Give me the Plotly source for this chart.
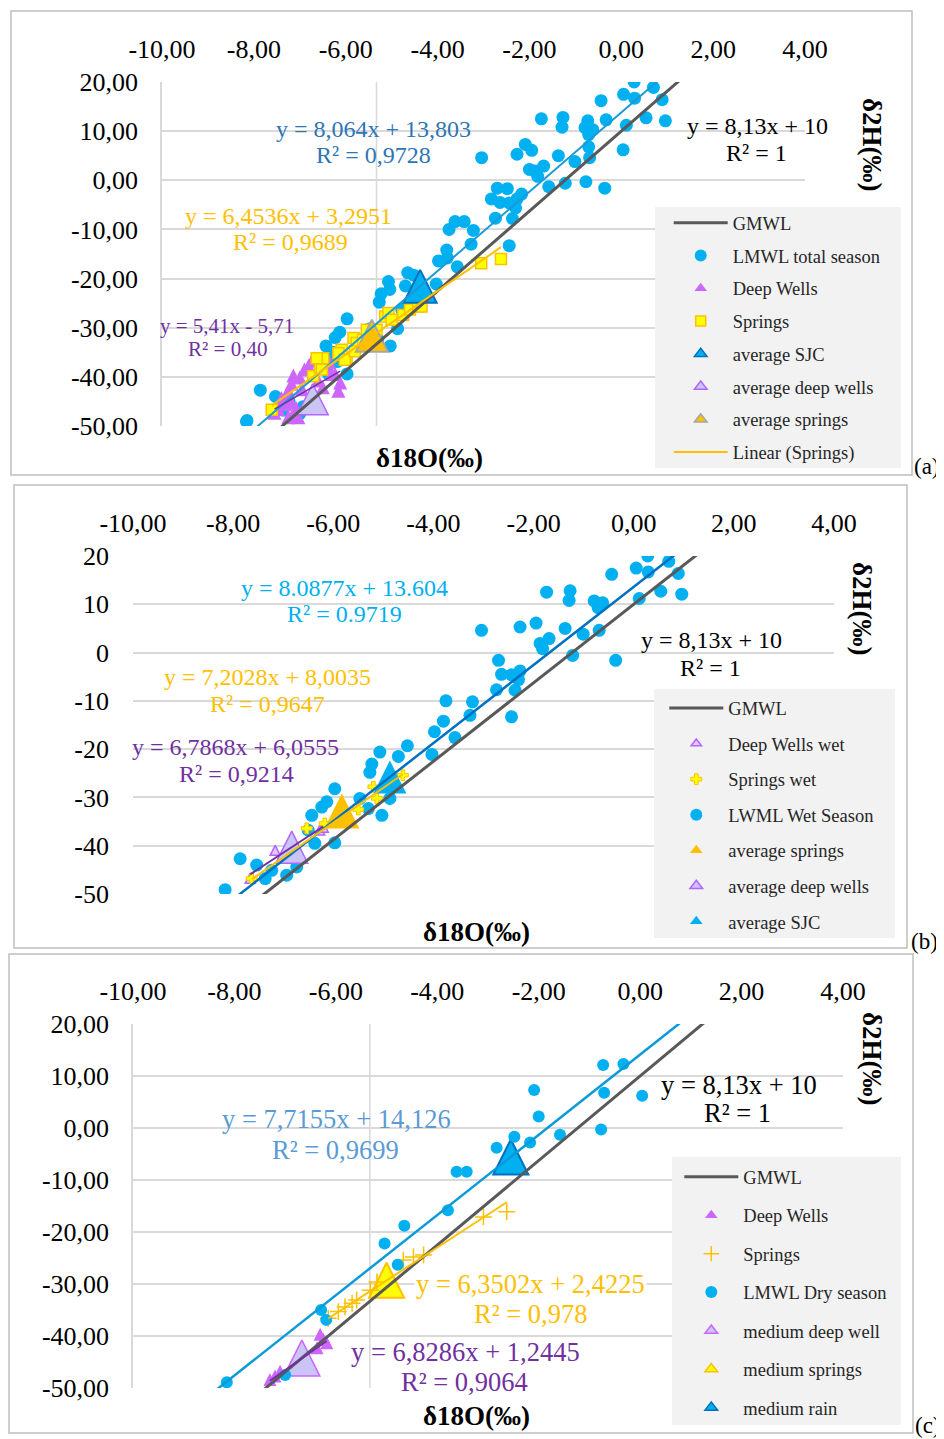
import plotly.graph_objects as go

# the page body adds an 8 px margin, so every reference pixel position is
# shifted by 8 px and the figure is sized to end at the window edge
OFF = 8
W, H = 944 - OFF, 1439 - OFF
SERIF = "Liberation Serif"

# ---------------- tick labels ----------------
x_tick_vals = [-10, -8, -6, -4, -2, 0, 2, 4]
x_tick_text = ["-10,00", "-8,00", "-6,00", "-4,00", "-2,00", "0,00", "2,00", "4,00"]
y_tick_vals = [20, 10, 0, -10, -20, -30, -40, -50]
y_tick_text_dec = ["20,00", "10,00", "0,00", "-10,00", "-20,00", "-30,00", "-40,00", "-50,00"]
y_tick_text_int = ["20", "10", "0", "-10", "-20", "-30", "-40", "-50"]

# ---------------- rain samples, wet season ----------------
wet_rain_x = [0.28, 0.70, 0.05, 0.29, 0.89, -0.44, -1.74, -1.27, -1.29, -0.79, -0.62, -0.71,
              0.11, 0.54, 0.96, -3.04, -2.27, -1.95, -1.37, -0.69, -1.01, -1.69, -1.87, -1.82,
              -1.22, -0.36, -2.70, -2.64, -2.44, -2.27, -2.30, -2.74, -2.37, -2.44, -3.75, -3.22,
              -3.27, -3.80, -3.98, -3.57, -4.52, -5.07, -4.70, -4.03, -5.23, -5.27, -4.87, -5.47,
              -5.30, -5.03, -5.97, -6.13, -6.23, -6.43, -6.50, -6.37, -5.97, -7.86, -7.53, -7.36,
              -6.93, -6.73, -8.16, -7.23]
wet_rain_y = [20.0, 18.9, 17.5, 16.7, 16.4, 16.2, 12.5, 12.8, 10.8, 10.7, 10.3, 9.3,
              11.2, 12.7, 12.1, 4.6, 5.3, 6.1, 5.0, 4.6, 3.8, 2.9, 1.9, 0.8,
              -0.6, -1.6, -1.6, -4.5, -4.6, -3.8, -5.6, -7.7, -7.8, -13.3, -10.0, -10.2,
              -13.0, -14.2, -16.4, -17.6, -19.3, -20.6, -21.5, -21.1, -23.1, -24.8, -30.2, -30.2,
              -32.3, -33.7, -28.2, -30.9, -32.0, -33.7, -36.8, -39.5, -39.4, -42.7, -44.0, -46.8,
              -46.1, -44.4, -49.1, -45.1]

# ---------------- rain samples, dry season ----------------
dry_rain_x = [-0.73, -0.33, -2.09, -0.71, 0.04, -2.00, -0.77, -1.58, -2.48, -2.17, -2.83,
              -3.62, -3.42, -3.79, -4.65, -5.04, -4.78, -6.29, -6.19, -7.00, -8.15]
dry_rain_y = [12.1, 12.3, 7.3, 6.8, 6.2, 2.2, -0.3, -1.3, -1.7, -2.8, -3.8,
              -8.4, -8.4, -15.8, -18.8, -22.2, -26.3, -35.0, -36.9, -47.5, -48.9]

# total season = both sampling campaigns
total_rain_x = wet_rain_x + dry_rain_x
total_rain_y = wet_rain_y + dry_rain_y

# ---------------- groundwater, panel (a) ----------------
deep_a_x = [-6.74, -6.81, -7.00, -7.14, -6.31, -6.23, -6.12, -6.60, -7.18, -7.25, -7.29,
            -7.18, -7.47, -7.32, -7.14, -7.03, -7.25, -6.16, -6.90, -6.45, -6.95, -7.40,
            -6.50, -7.08, -6.68, -6.36, -7.55]
deep_a_y = [-37.2, -38.2, -40.6, -40.2, -39.9, -39.9, -41.6, -41.2, -41.9, -43.3, -44.0,
            -45.7, -47.0, -46.0, -48.0, -48.7, -48.7, -43.3, -39.0, -38.6, -43.0, -44.8,
            -42.6, -46.8, -40.0, -37.5, -47.8]
springs_a_x = [-7.61, -6.71, -6.56, -6.52, -6.49, -6.12, -6.09, -5.98, -5.83, -5.76, -5.62,
               -5.54, -5.33, -5.14, -5.07, -5.00, -4.75, -4.60, -4.42, -4.35, -3.05, -2.62,
               -6.63, -6.16, -6.02, -5.80]
springs_a_y = [-46.7, -39.9, -38.2, -38.5, -36.2, -35.5, -34.5, -36.5, -32.1, -33.1, -32.4,
               -30.4, -30.4, -27.7, -27.0, -28.4, -27.4, -26.3, -25.7, -25.7, -16.9, -16.0,
               -36.2, -35.2, -36.5, -34.8]
avg_sjc_a = (-4.38, -22.7)
avg_deep_a = (-6.72, -45.6)
avg_springs_a = (-5.43, -32.7)

# ---------------- groundwater, panel (b) wet ----------------
deep_wet_x = [-7.66, -7.16, -6.95, -6.83, -6.27, -6.20]
deep_wet_y = [-47.1, -41.3, -41.0, -39.9, -37.1, -36.5]
springs_wet_x = [-7.63, -6.53, -6.17, -5.50, -5.20, -5.13, -4.61]
springs_wet_y = [-46.8, -36.4, -35.4, -32.5, -27.8, -30.2, -25.4]
avg_springs_b = (-5.83, -34.0)
avg_deep_b = (-6.83, -41.4)
avg_sjc_b = (-4.87, -26.9)

# ---------------- groundwater, panel (c) dry ----------------
deep_dry_x = [-6.31, -6.18, -6.37, -6.25, -7.10, -7.20, -7.30]
deep_dry_y = [-40.1, -41.7, -42.7, -41.0, -47.2, -48.1, -48.8]
springs_dry_x = [-6.15, -5.95, -5.82, -5.68, -5.59, -5.32, -5.19, -4.67, -4.47, -4.27, -3.09, -2.63]
springs_dry_y = [-36.6, -35.3, -34.4, -33.7, -33.1, -31.2, -29.6, -25.4, -24.8, -24.4, -17.1, -16.1]
med_deep_c = (-6.67, -45.4)
med_springs_c = (-5.00, -30.4)
med_rain_c = (-2.55, -6.7)

# ---------------- regression lines (slope, intercept) and x extents ----------------
gmwl_fit = (8.13, 10.0)
gmwl_ext = [-9.0, 2.0]
lmwl_total_fit = (8.064, 13.803)
springs_a_fit = (6.4536, 3.2951)
deep_a_fit = (5.41, -5.71)
lmwl_wet_fit = (8.0877, 13.604)
springs_wet_fit = (7.2028, 8.0035)
deep_wet_fit = (6.7868, 6.0555)
lmwl_dry_fit = (7.7155, 14.126)
lmwl_dry_ext = [-8.4, 0.8]
springs_dry_fit = (6.3502, 2.4225)
deep_dry_fit = (6.8286, 1.2445)


def ext(xs):
    return [min(xs), max(xs)]


def fit_y(fit, xs):
    return [fit[0] * v + fit[1] for v in xs]


# ---------------- colours ----------------
C_RAIN = "#00b0f0"
C_GMWL = "#595959"
C_PURPLE = "#7030a0"
C_ORANGE = "#ffc000"
C_VIOLET = "#cc66ff"
C_LAV = "#cbc5f7"
C_GRID = "#d9d9d9"

fig = go.Figure()


def tri(size, fill, lc, lw):
    # upright triangle as tall as wide, centred on the point
    return dict(symbol="arrow-down", angle=180, standoff=size * 2 / 3, size=size,
                color=fill, line=dict(color=lc, width=lw))


def pts(ax, xs, ys, marker):
    fig.add_trace(go.Scatter(x=xs, y=ys, mode="markers", marker=marker, showlegend=False,
                             xaxis="x" + ax, yaxis="y" + ax, hoverinfo="skip"))


def line(ax, xs, fit, color, width, name=None, leg=None, rank=None):
    fig.add_trace(go.Scatter(x=xs, y=fit_y(fit, xs), mode="lines",
                             line=dict(color=color, width=width),
                             showlegend=name is not None, name=name, legend=leg,
                             legendgroup=(leg or "") + (name or ""), legendrank=rank,
                             xaxis="x" + ax, yaxis="y" + ax, hoverinfo="skip"))


def proxy(ax, name, marker, leg, rank):
    fig.add_trace(go.Scatter(x=[None], y=[None], mode="markers", marker=marker, name=name,
                             legend=leg, legendgroup=leg + name, legendrank=rank,
                             xaxis="x" + ax, yaxis="y" + ax, hoverinfo="skip"))


# ===== panel (a) =====
A = ""
pts(A, total_rain_x, total_rain_y, dict(size=13, color=C_RAIN))
pts(A, deep_a_x, deep_a_y, tri(14, C_VIOLET, C_VIOLET, 0))
pts(A, springs_a_x, springs_a_y, dict(symbol="square", size=11, color="#ffff00",
                                      line=dict(color=C_ORANGE, width=1.5)))
pts(A, [avg_sjc_a[0]], [avg_sjc_a[1]], tri(33, C_RAIN, "#0070c0", 2))
pts(A, [avg_deep_a[0]], [avg_deep_a[1]], tri(31, C_LAV, "#b266ff", 1.5))
pts(A, [avg_springs_a[0]], [avg_springs_a[1]], tri(32, C_ORANGE, "#a6a6a6", 2))
line(A, gmwl_ext, gmwl_fit, C_GMWL, 3, "GMWL", "legend", 1)
line(A, ext(total_rain_x), lmwl_total_fit, "#1a9ad6", 2)
line(A, ext(deep_a_x), deep_a_fit, C_PURPLE, 1.5)
line(A, ext(springs_a_x), springs_a_fit, C_ORANGE, 2, "Linear (Springs)", "legend", 8)
proxy(A, "LMWL total season", dict(size=12, color=C_RAIN), "legend", 2)
proxy(A, "Deep Wells", dict(symbol="triangle-up", size=11, color=C_VIOLET), "legend", 3)
proxy(A, "Springs", dict(symbol="square", size=10, color="#ffff00",
                         line=dict(color=C_ORANGE, width=1.5)), "legend", 4)
proxy(A, "average SJC", dict(symbol="triangle-up", size=11, color=C_RAIN,
                             line=dict(color="#0070c0", width=1.5)), "legend", 5)
proxy(A, "average deep wells", dict(symbol="triangle-up", size=11, color=C_LAV,
                                    line=dict(color="#b266ff", width=1.5)), "legend", 6)
proxy(A, "average springs", dict(symbol="triangle-up", size=11, color=C_ORANGE,
                                 line=dict(color="#a6a6a6", width=1.5)), "legend", 7)

# ===== panel (b) =====
B = "2"
pts(B, wet_rain_x, wet_rain_y, dict(size=13, color=C_RAIN))
pts(B, deep_wet_x, deep_wet_y, tri(10, "#e3c8ff", "#b266ff", 1.5))
pts(B, springs_wet_x, springs_wet_y, dict(symbol="cross", size=9, color="#ffff00",
                                          line=dict(color=C_ORANGE, width=1)))
pts(B, [avg_springs_b[0]], [avg_springs_b[1]], tri(35, C_ORANGE, C_ORANGE, 0))
pts(B, [avg_deep_b[0]], [avg_deep_b[1]], tri(32, C_LAV, "#b266ff", 1.5))
pts(B, [avg_sjc_b[0]], [avg_sjc_b[1]], tri(33, C_RAIN, C_RAIN, 0))
line(B, gmwl_ext, gmwl_fit, C_GMWL, 3, "GMWL", "legend2", 1)
line(B, ext(wet_rain_x), lmwl_wet_fit, "#0070c0", 2.5)
line(B, ext(springs_wet_x), springs_wet_fit, C_ORANGE, 2)
line(B, ext(deep_wet_x), deep_wet_fit, C_PURPLE, 2)
proxy(B, "Deep Wells wet", dict(symbol="triangle-up", size=9, color="#e3c8ff",
                                line=dict(color="#b266ff", width=1.5)), "legend2", 2)
proxy(B, "Springs wet", dict(symbol="cross", size=9, color="#ffff00",
                             line=dict(color=C_ORANGE, width=1)), "legend2", 3)
proxy(B, "LWML Wet Season", dict(size=12, color=C_RAIN), "legend2", 4)
proxy(B, "average springs", dict(symbol="triangle-up", size=11, color=C_ORANGE), "legend2", 5)
proxy(B, "average deep wells", dict(symbol="triangle-up", size=11, color=C_LAV,
                                    line=dict(color="#b266ff", width=1.5)), "legend2", 6)
proxy(B, "average SJC", dict(symbol="triangle-up", size=11, color=C_RAIN), "legend2", 7)

# ===== panel (c) =====
Cc = "3"
pts(Cc, [med_deep_c[0]], [med_deep_c[1]], tri(36, C_LAV, C_VIOLET, 1.5))
pts(Cc, [med_springs_c[0]], [med_springs_c[1]], tri(35, "#ffff00", C_ORANGE, 2))
pts(Cc, [med_rain_c[0]], [med_rain_c[1]], tri(35, C_RAIN, "#0070c0", 2))
pts(Cc, deep_dry_x, deep_dry_y, tri(13, C_VIOLET, C_VIOLET, 0))
pts(Cc, springs_dry_x, springs_dry_y, dict(symbol="cross-thin", size=12,
                                           line=dict(color=C_ORANGE, width=1.5)))
pts(Cc, dry_rain_x, dry_rain_y, dict(size=12, color=C_RAIN))
line(Cc, gmwl_ext, gmwl_fit, C_GMWL, 3, "GMWL", "legend3", 1)
line(Cc, lmwl_dry_ext, lmwl_dry_fit, "#0a9ad8", 2.5)
line(Cc, ext(springs_dry_x), springs_dry_fit, C_ORANGE, 2)
line(Cc, ext(deep_dry_x), deep_dry_fit, C_PURPLE, 2)
proxy(Cc, "Deep Wells", dict(symbol="triangle-up", size=11, color=C_VIOLET), "legend3", 2)
proxy(Cc, "Springs", dict(symbol="cross-thin", size=11, line=dict(color=C_ORANGE, width=1.5)),
      "legend3", 3)
proxy(Cc, "LMWL Dry season", dict(size=12, color=C_RAIN), "legend3", 4)
proxy(Cc, "medium deep well", dict(symbol="triangle-up", size=11, color=C_LAV,
                                   line=dict(color=C_VIOLET, width=1.5)), "legend3", 5)
proxy(Cc, "medium springs", dict(symbol="triangle-up", size=11, color="#ffff00",
                                 line=dict(color=C_ORANGE, width=1.5)), "legend3", 6)
proxy(Cc, "medium rain", dict(symbol="triangle-up", size=11, color=C_RAIN,
                              line=dict(color="#0070c0", width=1.5)), "legend3", 7)


# ---------------- layout (positions given in screen pixels) ----------------
def PX(p):
    return (p - OFF) / W


def PY(p):
    return 1 - (p - OFF) / H


panels = [
    ("", (162, 805), (82, 426), y_tick_text_dec, True, 17),
    ("2", (133, 834), (556, 894), y_tick_text_int, False, 23),
    ("3", (133, 843), (1024, 1388), y_tick_text_dec, True, 17),
]
tickfont = dict(family=SERIF, size=26, color="#000000")
lay = {}
for n, xd, yd, ytxt, yline, ystand in panels:
    lay["xaxis" + n] = dict(domain=[PX(xd[0]), PX(xd[1])], range=[-10, 4], side="top",
                           anchor="y" + n, tickmode="array", tickvals=x_tick_vals,
                           ticktext=x_tick_text, showgrid=False, zeroline=False,
                           showline=False, ticks="", tickfont=tickfont, automargin=False,
                           ticklabelstandoff=18, fixedrange=True)
    lay["yaxis" + n] = dict(domain=[PY(yd[1]), PY(yd[0])], range=[-50, 20],
                           anchor="x" + n, tickmode="array", tickvals=y_tick_vals,
                           ticktext=ytxt, showgrid=True, gridcolor=C_GRID, gridwidth=1.5,
                           zeroline=False, showline=yline, linecolor=C_GRID, linewidth=1.5,
                           ticks="", tickfont=tickfont, ticklabelstandoff=ystand,
                           automargin=False, fixedrange=True)

shapes = []
# outer frames of the three charts
for x0, y0, x1, y1 in [(11, 11, 912, 475), (14, 485, 907, 948), (9, 954, 913, 1433)]:
    shapes.append(dict(type="rect", xref="paper", yref="paper", x0=PX(x0), x1=PX(x1),
                       y0=PY(y1), y1=PY(y0), line=dict(color="#bfbfbf", width=1.5),
                       fillcolor="rgba(0,0,0,0)", layer="below"))
# legend backgrounds
for x0, y0, x1, y1 in [(655, 207, 901, 468), (654, 689, 895, 938), (672, 1157, 901, 1425)]:
    shapes.append(dict(type="rect", xref="paper", yref="paper", x0=PX(x0), x1=PX(x1),
                       y0=PY(y1), y1=PY(y0), line=dict(width=0), fillcolor="#f2f2f2",
                       layer="above"))
# vertical axis-crossing lines in (a) and (c)
for n in ["", "3"]:
    shapes.append(dict(type="line", xref="x" + n, yref="y" + n, x0=-5.33, x1=-5.33,
                       y0=-50, y1=20, line=dict(color=C_GRID, width=1.5), layer="below"))


def txt(s, x, y, color="#000000", size=24, angle=0, bg=None):
    d = dict(text=s, x=PX(x), y=PY(y), xref="paper", yref="paper", xanchor="center",
             yanchor="middle", showarrow=False, textangle=angle,
             font=dict(family=SERIF, size=size, color=color))
    if bg:
        d["bgcolor"] = bg
    return d


ann = [
    # (a)
    txt("y = 8,064x + 13,803", 373, 129, "#2e75b6"),
    txt("R² = 0,9728", 373, 155, "#2e75b6"),
    txt("y = 6,4536x + 3,2951", 288, 216, C_ORANGE),
    txt("R² = 0,9689", 290, 242, C_ORANGE),
    txt("y = 5,41x - 5,71", 227, 326, C_PURPLE, 21),
    txt("R² = 0,40", 227, 349, C_PURPLE, 21),
    txt("y = 8,13x + 10", 757, 126),
    txt("R² = 1", 756, 153),
    txt("<b>δ18O(‰)</b>", 429, 458, size=27),
    txt("<b>δ2H(‰)</b>", 872, 145, size=27, angle=90),
    txt("(a)", 927, 466, size=23),
    # (b)
    txt("y = 8.0877x + 13.604", 344, 587.5, C_RAIN),
    txt("R² = 0.9719", 344, 614, C_RAIN),
    txt("y = 7,2028x + 8,0035", 267.5, 677.5, C_ORANGE),
    txt("R² = 0,9647", 267.5, 704, C_ORANGE),
    txt("y = 6,7868x + 6,0555", 235.5, 747.5, C_PURPLE),
    txt("R² = 0,9214", 236, 774, C_PURPLE),
    txt("y = 8,13x + 10", 711, 640),
    txt("R² = 1", 710.5, 667.5),
    txt("<b>δ18O(‰)</b>", 476.5, 932, size=27),
    txt("<b>δ2H(‰)</b>", 862, 609, size=27, angle=90),
    txt("(b)", 924, 941, size=23),
    # (c)
    txt("y = 7,7155x + 14,126", 336, 1119, "#5b9bd5", 26.5),
    txt("R² = 0,9699", 335.5, 1150, "#5b9bd5", 26.5),
    txt("y = 8,13x + 10", 738.7, 1085, size=26.5),
    txt("R² = 1", 737.5, 1113, size=26.5),
    txt("y = 6,3502x + 2,4225", 530.5, 1284.3, C_ORANGE, 26.5, bg="#ffffff"),
    txt("R² = 0,978", 530.5, 1314.3, C_ORANGE, 26.5),
    txt("y = 6,8286x + 1,2445", 465, 1351.7, C_PURPLE, 26.5),
    txt("R² = 0,9064", 464, 1382.3, C_PURPLE, 26.5),
    txt("<b>δ18O(‰)</b>", 476.5, 1416, size=27),
    txt("<b>δ2H(‰)</b>", 872, 1059, size=27, angle=90),
    txt("(c)", 928, 1425, size=23),
]

legfont = dict(family=SERIF, size=18.5, color="#262626")


def leg(x, y, gap):
    return dict(x=PX(x), y=PY(y), xanchor="left", yanchor="top", bgcolor="rgba(0,0,0,0)",
                font=legfont, itemwidth=54, tracegroupgap=gap, traceorder="grouped",
                borderwidth=0, itemclick=False, itemdoubleclick=False)


fig.update_layout(
    template="none",
    width=W, height=H, autosize=False,
    margin=dict(l=0, r=0, t=0, b=0, pad=0),
    paper_bgcolor="#ffffff", plot_bgcolor="rgba(0,0,0,0)",
    separators=",.",
    shapes=shapes, annotations=ann,
    legend=leg(668.7, 204.2, 5.7),
    legend2=leg(664.3, 689.5, 8.5),
    legend3=leg(679.3, 1158.2, 11.4),
    hovermode=False,
    **lay,
)

fig.write_html("out.html", config={"displayModeBar": False})
